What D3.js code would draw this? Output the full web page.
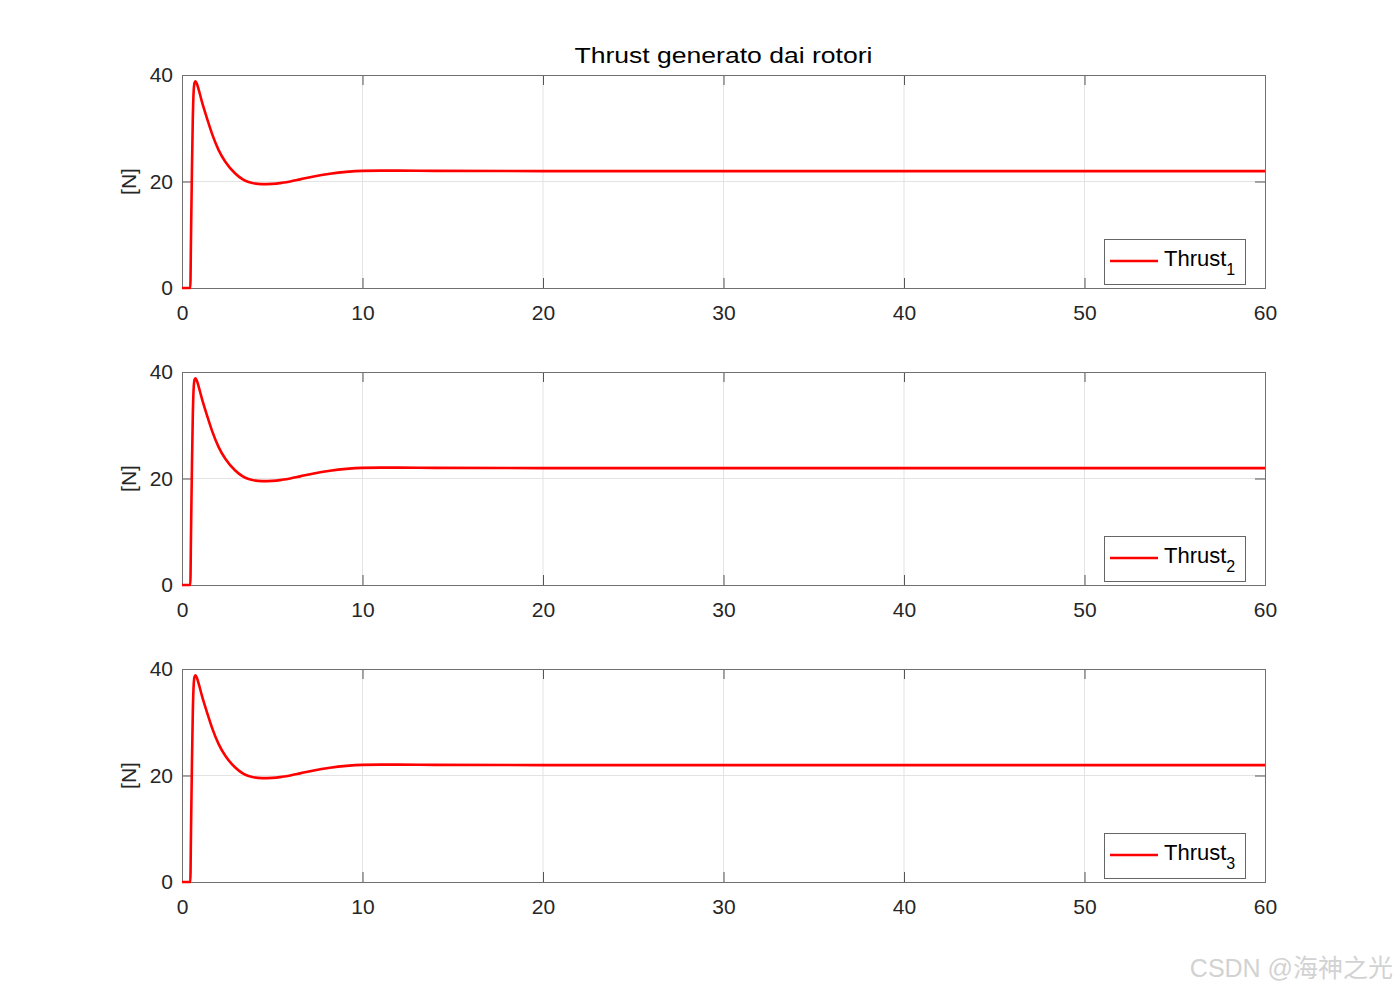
<!DOCTYPE html>
<html>
<head>
<meta charset="utf-8">
<script src="https://cdn.jsdelivr.net/npm/d3@7"></script>
<style>
  body { margin: 0; background: #fff; }
  svg { display: block; font-family: "Liberation Sans", Arial, sans-serif; }
</style>
</head>
<body>
<svg id="drawing_region"></svg>
<script>
// time [s] and thrust [N] (the three rotors look identical)
const time   = [0, 0.46, 0.5, 0.55, 0.6, 0.65, 0.7, 0.75, 0.82, 0.92, 1.11, 1.39, 1.66, 2.03, 2.4, 2.95, 3.69, 4.43, 5.0, 5.54, 6.0, 6.55, 7.3, 8.2, 9.1, 10, 11, 12, 14, 20, 30, 40, 50, 60];
const thrust = [0, 0, 10, 22, 32, 37.2, 38.6, 38.8, 38.4, 37.3, 34.9, 31.8, 29.0, 25.9, 23.7, 21.5, 19.9, 19.5, 19.55, 19.75, 20.0, 20.4, 20.95, 21.45, 21.8, 22.0, 22.05, 22.05, 22.0, 21.95, 21.95, 21.95, 21.95, 21.95];
const seriesNames = ["1", "2", "3"];
const xTicks = [0, 10, 20, 30, 40, 50, 60];
const yTicks = [0, 20, 40];

const width = 1398, height = 991;
const left = 182, right = 1265;
const panelTops = [75, 372, 669];
const panelH = 213;

const svg = d3.select('#drawing_region')
    .attr('width', width)
    .attr('height', height);

const xscale = d3.scaleLinear().domain([0, 60]).range([left, right]);

svg.append('text')
    .attr('x', (left + right) / 2)
    .attr('y', 63)
    .attr('text-anchor', 'middle')
    .attr('textLength', 298)
    .attr('lengthAdjust', 'spacingAndGlyphs')
    .style('font-size', '22px')
    .style('fill', '#000')
    .text('Thrust generato dai rotori');

seriesNames.forEach((name, i) => {
    const top = panelTops[i];
    const yscale = d3.scaleLinear().domain([0, 40]).range([top + panelH, top]);
    const g = svg.append('g');

    // grid
    g.selectAll('.vgrid').data(xTicks.slice(1, -1)).enter().append('line')
        .attr('x1', d => xscale(d)).attr('x2', d => xscale(d))
        .attr('y1', top).attr('y2', top + panelH)
        .attr('stroke', '#e3e3e3').attr('stroke-width', 1);
    g.selectAll('.hgrid').data(yTicks.slice(1, -1)).enter().append('line')
        .attr('x1', left).attr('x2', right)
        .attr('y1', d => yscale(d)).attr('y2', d => yscale(d))
        .attr('stroke', '#e3e3e3').attr('stroke-width', 1);

    // axes (ticks inward, MATLAB style)
    const styleAxis = sel => {
        sel.select('.domain').remove();
        sel.selectAll('line').attr('stroke', '#555');
        sel.selectAll('text').style('font-size', '21px').style('fill', '#262626')
            .attr('font-family', '"Liberation Sans", Arial, sans-serif');
    };
    g.append('g').attr('transform', `translate(0,${top + panelH})`)
        .call(d3.axisBottom(xscale).tickValues(xTicks).tickSizeInner(-10).tickSizeOuter(0).tickPadding(17))
        .call(styleAxis);
    g.append('g').attr('transform', `translate(0,${top})`)
        .call(d3.axisTop(xscale).tickValues(xTicks.slice(1, -1)).tickSizeInner(-10).tickSizeOuter(0).tickFormat(''))
        .call(styleAxis);
    g.append('g').attr('transform', `translate(${left},0)`)
        .call(d3.axisLeft(yscale).tickValues(yTicks).tickSizeInner(-10).tickSizeOuter(0).tickPadding(9))
        .call(styleAxis);
    g.append('g').attr('transform', `translate(${right},0)`)
        .call(d3.axisRight(yscale).tickValues(yTicks.slice(1, -1)).tickSizeInner(-10).tickSizeOuter(0).tickFormat(''))
        .call(styleAxis);

    g.append('rect')
        .attr('x', left + 0.5).attr('y', top + 0.5)
        .attr('width', right - left).attr('height', panelH)
        .attr('fill', 'none').attr('stroke', '#707070').attr('stroke-width', 1);

    g.append('text')
        .attr('transform', `translate(136,${yscale(20)}) rotate(-90)`)
        .attr('text-anchor', 'middle')
        .style('font-size', '21px').style('fill', '#262626')
        .text('[N]');

    // curve
    const line = d3.line()
        .x((d, j) => xscale(time[j]))
        .y(d => yscale(d))
        .curve(d3.curveMonotoneX);
    g.append('path')
        .datum(thrust)
        .attr('d', line)
        .attr('fill', 'none')
        .attr('stroke', '#ff0000')
        .attr('stroke-width', 2.6)
        .attr('stroke-linejoin', 'round');

    // legend
    const ly = top + panelH - 49;
    const lg = g.append('g');
    lg.append('rect')
        .attr('x', 1104.5).attr('y', ly + 0.5)
        .attr('width', 141).attr('height', 45)
        .attr('fill', '#fff').attr('stroke', '#666').attr('stroke-width', 1);
    lg.append('line')
        .attr('x1', 1110).attr('x2', 1158)
        .attr('y1', ly + 22).attr('y2', ly + 22)
        .attr('stroke', '#ff0000').attr('stroke-width', 2.4);
    const lt = lg.append('text')
        .attr('x', 1164).attr('y', ly + 27)
        .style('font-size', '22px').style('fill', '#000');
    lt.append('tspan').text('Thrust');
    lt.append('tspan').attr('dy', 9).style('font-size', '16px').text(name);
});

// watermark
svg.append('text')
    .attr('x', 1393).attr('y', 977)
    .attr('text-anchor', 'end')
    .style('font-size', '25px')
    .style('fill', '#d2d2d2')
    .style('font-family', '"Liberation Sans", "Noto Sans CJK SC", sans-serif')
    .text('CSDN @海神之光');
</script>
</body>
</html>
